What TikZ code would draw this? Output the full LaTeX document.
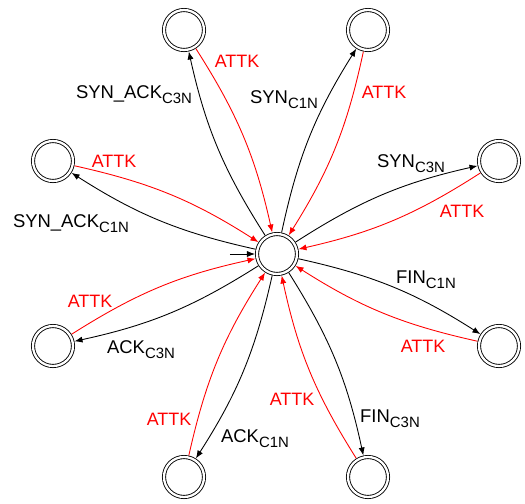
\documentclass[tikz,border=0pt]{standalone}
\usepackage{fontspec}
\setmainfont{Liberation Sans}
\usepackage{tikz}
\usetikzlibrary{arrows.meta,positioning}

\newcommand{\lsub}[1]{\raisebox{-3pt}{\fontsize{8.5}{10}\selectfont#1}}

\tikzset{
  stnode/.style={circle,draw,double,double distance=1.3pt,line width=0.5pt,minimum size=0.8cm,inner sep=0pt,outer sep=1.2pt},
  lbl/.style={anchor=base,inner sep=0pt,font=\fontsize{10.5}{12}\selectfont},
  atklbl/.style={lbl,red,font=\fontsize{10.2}{12}\selectfont},
  fwd/.style={-{Latex[length=4.5pt,width=3.5pt]},line width=0.5pt,bend left=10},
  atk/.style={fwd,red},
}

\begin{document}
\begin{tikzpicture}[x=0.02cm,y=0.02cm]
\useasboundingbox (0,0) rectangle (525,-504);
% states
\node[stnode] (c) at (277,-254) {};
\node[stnode] (tl) at (184,-30) {};
\node[stnode] (tr) at (368,-30) {};
\node[stnode] (lu) at (53,-161) {};
\node[stnode] (ru) at (499,-161) {};
\node[stnode] (ll) at (53,-346) {};
\node[stnode] (rl) at (499,-346) {};
\node[stnode] (bl) at (184,-477) {};
\node[stnode] (br) at (368,-477) {};
% start arrow
\coordinate[left=0.5cm of c] (ini);
\draw[fwd] (ini) -- (c);
% transitions out of c
\draw[fwd] (c) to (tl);
\draw[fwd] (c) to (tr);
\draw[fwd] (c) to (lu);
\draw[fwd] (c) to (ru);
\draw[fwd] (c) to (ll);
\draw[fwd] (c) to (rl);
\draw[fwd] (c) to (bl);
\draw[fwd] (c) to (br);
% attacks back into c
\foreach \s in {tl,tr,lu,ru,ll,rl,bl,br}
  \draw[atk] (\s) to (c);
% labels
\node[lbl] (lsa3) at (134,-98) {SYN\_ACK\lsub{C3N}};
\node[lbl] (ls1) at (284,-103) {SYN\lsub{C1N}};
\node[lbl] (lsa1) at (71,-227) {SYN\_ACK\lsub{C1N}};
\node[lbl] (ls3) at (411,-167) {SYN\lsub{C3N}};
\node[lbl] (la3) at (141,-353) {ACK\lsub{C3N}};
\node[lbl] (lf1) at (426,-283) {FIN\lsub{C1N}};
\node[lbl] (la1) at (255,-442) {ACK\lsub{C1N}};
\node[lbl] (lf3) at (390,-422) {FIN\lsub{C3N}};
\node[atklbl] (ktl) at (237,-67) {ATTK};
\node[atklbl] (ktr) at (384,-98) {ATTK};
\node[atklbl] (klu) at (114,-167) {ATTK};
\node[atklbl] (kru) at (462,-217) {ATTK};
\node[atklbl] (kll) at (90,-307) {ATTK};
\node[atklbl] (krl) at (423,-352) {ATTK};
\node[atklbl] (kbl) at (169,-425) {ATTK};
\node[atklbl] (kbr) at (292,-405) {ATTK};
\end{tikzpicture}
\end{document}
